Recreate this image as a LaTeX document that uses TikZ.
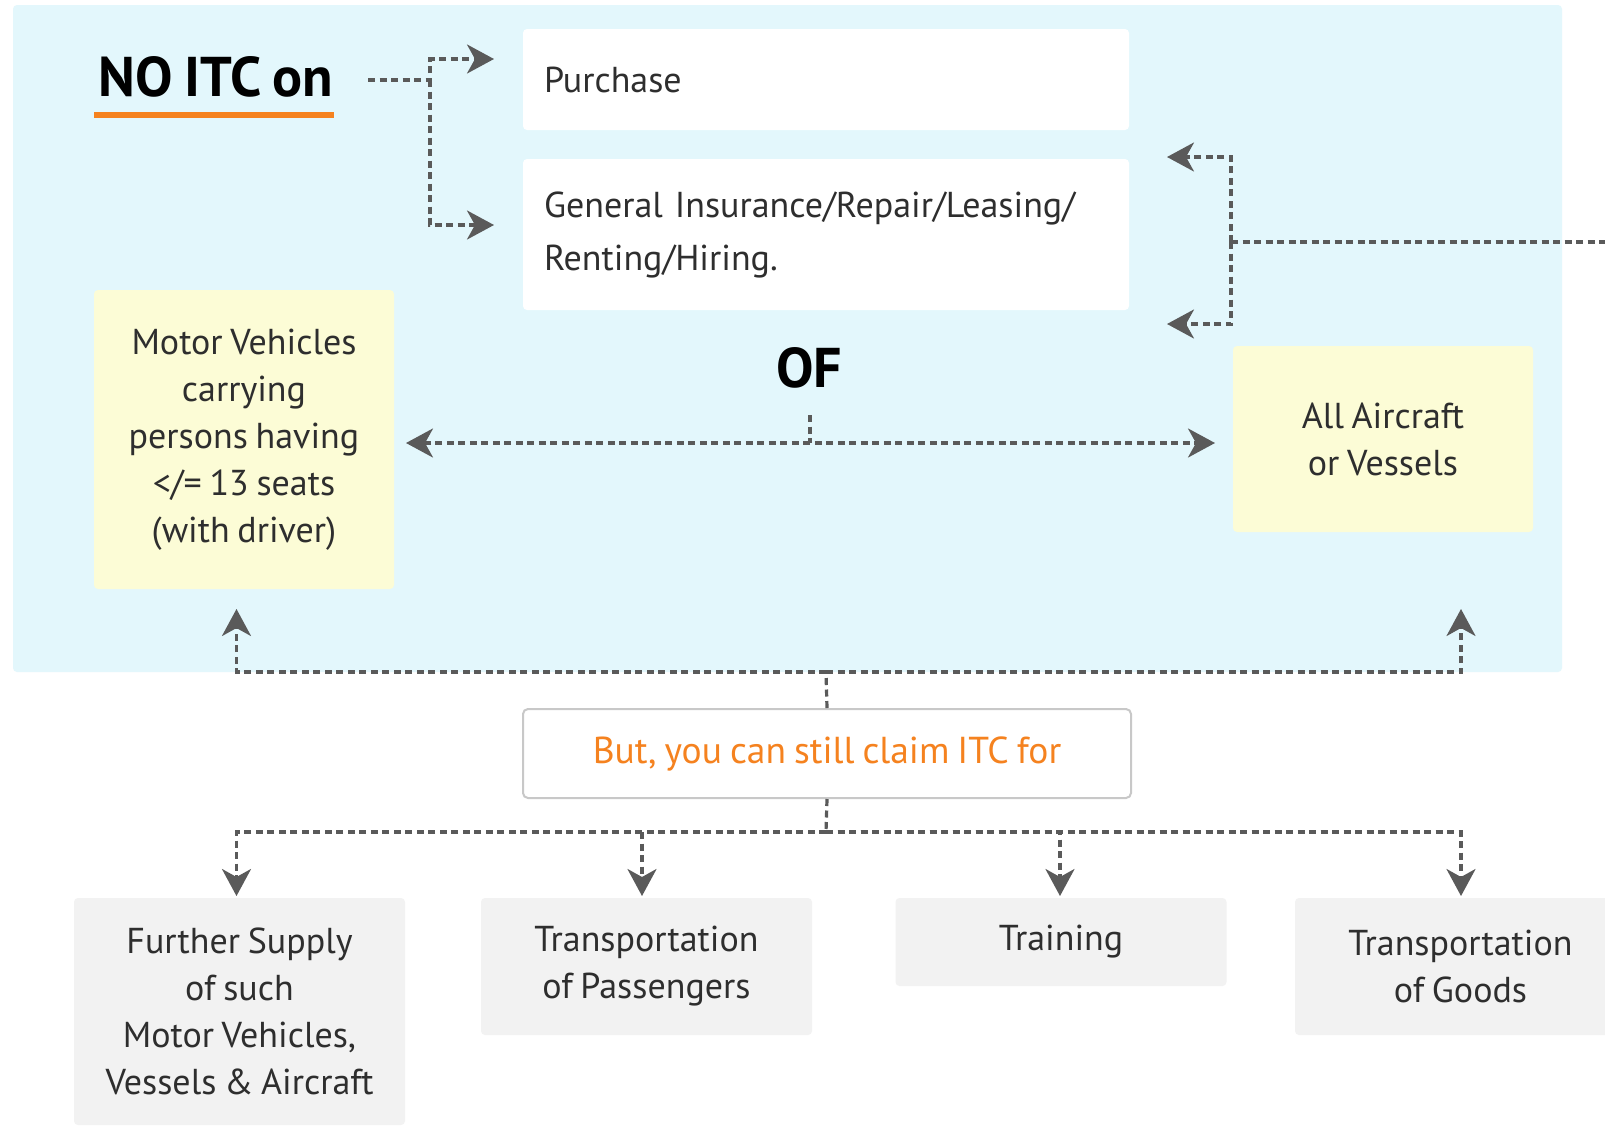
\documentclass[tikz,border=0pt]{standalone}
\usepackage{fontspec}
\setmainfont{PT Sans}[WordSpace=0.8]
\usetikzlibrary{arrows.meta}
\definecolor{skybg}{HTML}{E3F7FC}
\definecolor{paleyellow}{HTML}{FCFCD6}
\definecolor{boxgray}{HTML}{F2F2F2}
\definecolor{accent}{HTML}{F5821F}
\definecolor{linkgray}{HTML}{5A5A5A}
\definecolor{ink}{HTML}{2E2E2E}
\definecolor{framegray}{HTML}{C8C8C8}

\begin{document}
\begin{tikzpicture}[x=1pt,y=-1pt,
  body/.style={font=\fontsize{36}{47}\selectfont, text=ink},
  whitebox/.style={body, fill=white, rounded corners=4pt, minimum width=606pt,
    text width=564pt, inner xsep=21pt, inner ysep=0pt, align=left},
  yellowbox/.style={body, fill=paleyellow, rounded corners=4pt, minimum width=300pt, align=center},
  graybox/.style={body, fill=boxgray, rounded corners=4pt, minimum width=331pt, align=center},
  link/.style={draw=linkgray, line width=3.2pt, dash pattern=on 7pt off 4.5pt},
  headtip/.tip={Stealth[length=27pt,width=29pt,inset=8pt]},
  tipend/.style={-headtip},
  tipboth/.style={headtip-headtip},
  heading/.style={font=\bfseries\fontsize{56}{64}\selectfont, text=black, inner sep=0pt}
]
\useasboundingbox (0,0) rectangle (1605,1125);
\fill[white] (0,0) rectangle (1605,1125);

% light blue panel
\fill[skybg, rounded corners=4pt] (13,5) rectangle (1562,672);

% title with orange rule
\node[heading] (noitc) at (216,77) {NO ITC on};
\draw[accent, line width=6pt] (94,115) -- (334,115);

% top white boxes
\node[whitebox, minimum height=101pt] (purchase) at (826,79.5) {Purchase};
\node[whitebox, minimum height=151pt, font=\fontsize{36}{53}\selectfont] (general) at (826,234.5)
  {General Insurance/Repair/Leasing/\\Renting/Hiring.};

% yellow boxes
\node[yellowbox, minimum height=299pt] (motor) at (244,439.5)
  {Motor Vehicles\\carrying\\persons having\\</= 13 seats\\(with driver)};
\node[yellowbox, minimum height=186pt] (aircraft) at (1383,439)
  {All Aircraft\\or Vessels};

\node[heading] (of) at (809,368) {OF};

% claim box
\node[body, draw=framegray, line width=2pt, fill=white, rounded corners=5pt,
  minimum width=608pt, minimum height=89pt, text=accent, font=\fontsize{37.5}{47}\selectfont] (claim) at (827,753.5)
  {But, you can still claim ITC for};

% bottom grey boxes
\node[graybox, minimum height=227pt] (supply) at (239.5,1011.5)
  {Further Supply\\of such\\Motor Vehicles,\\Vessels \& Aircraft};
\node[graybox, minimum height=137pt] (passengers) at (646.5,966.5)
  {Transportation\\of Passengers};
\node[graybox, minimum height=88pt] (training) at (1061,942) {Training};
\node[graybox, minimum height=137pt] (goods) at (1460.5,966.5)
  {Transportation\\of Goods};

% connector points
\coordinate (s0) at (368,80);
\coordinate (jL) at (430,80);
\coordinate (pTip) at (494,59);
\coordinate (gTip) at (494,225);
\coordinate (rM) at (1231,242);
\coordinate (rTop) at (1167,157);
\coordinate (rBot) at (1167,324);
\coordinate (rOut) at (1610,242);
\coordinate (ofTick) at (810,415);
\coordinate (ofLine) at (810,443);
\coordinate (mTip) at (406,443);
\coordinate (aTip) at (1215,443);
\coordinate (upJ) at (826,672);
\coordinate (upL) at (236.5,609);
\coordinate (upR) at (1461,609);
\coordinate (dnJ) at (826,832);
\coordinate (d1) at (236.5,896);
\coordinate (d2) at (642,896);
\coordinate (d3) at (1060,896);
\coordinate (d4) at (1461,896);

% connectors
\draw[link, tipend] (s0) -- (jL) |- (pTip);
\draw[link, tipend] (jL) |- (gTip);
\draw[link, tipend] (rM) |- (rTop);
\draw[link, tipend] (rM) |- (rBot);
\draw[link] (rM) -- (rOut);
\draw[link, tipboth] (mTip) -- (aTip);
\draw[link] (ofTick) -- (ofLine);
\draw[link] (claim.north) -- (upJ);
\draw[link, tipend] (upJ) -| (upL);
\draw[link, tipend] (upJ) -| (upR);
\draw[link] (claim.south) -- (dnJ);
\draw[link, tipend] (dnJ) -| (d1);
\draw[link, tipend] (dnJ) -| (d2);
\draw[link, tipend] (dnJ) -| (d3);
\draw[link, tipend] (dnJ) -| (d4);
\end{tikzpicture}
\end{document}
